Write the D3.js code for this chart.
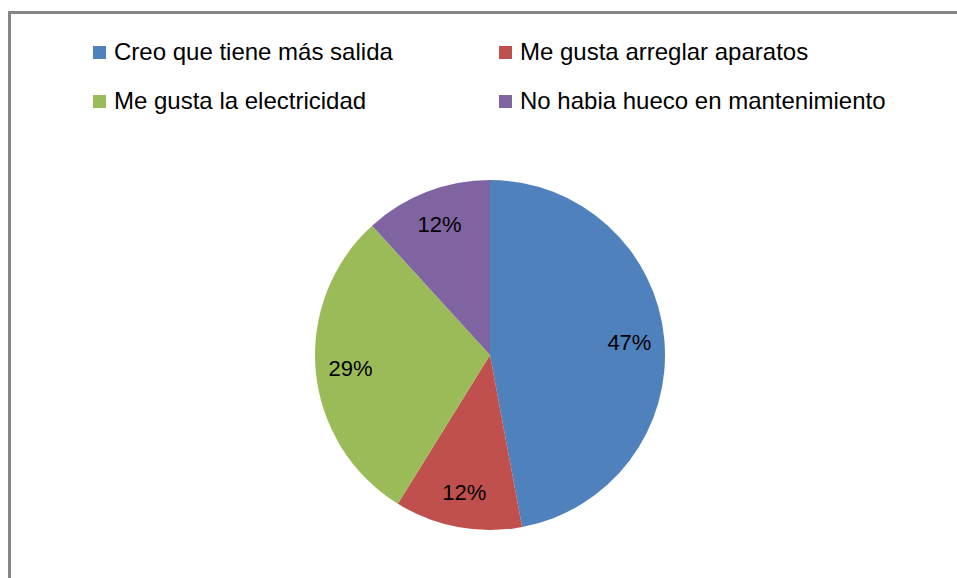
<!DOCTYPE html>
<html>
<head>
<meta charset="utf-8">
<script src="https://cdn.jsdelivr.net/npm/d3@7"></script>
<style>
  body { margin: 0; background: #fff; }
  text { font-family: "Liberation Sans", Arial, sans-serif; fill: #000; }
</style>
</head>
<body>
<div id="chart"></div>
<script>
var categories = ["Creo que tiene más salida", "Me gusta arreglar aparatos", "Me gusta la electricidad", "No habia hueco en mantenimiento"];
var counts = [8, 2, 5, 2];
var colors = ["#4F81BD", "#C0504D", "#9BBB59", "#8064A2"];

var width = 957;
var height = 578;

var svg = d3.select('#chart')
  .append('svg')
  .attr('width', width)
  .attr('height', height);

// frame (only top and left edge fall inside the picture)
svg.append('path')
  .attr('d', 'M9.5,' + height + 'V12.5H' + width)
  .attr('fill', 'none')
  .attr('stroke', '#868686')
  .attr('stroke-width', 3);

var cx = 490, cy = 355, r = 175;

var pie = d3.pie().sort(null).value(function (d) { return d; });
var arcs = pie(counts);
var total = d3.sum(counts);

var arc = d3.arc().innerRadius(0).outerRadius(r);
var labelArc = d3.arc().innerRadius(r * 0.8).outerRadius(r * 0.8);

var g = svg.append('g').attr('transform', 'translate(' + cx + ',' + cy + ')');

g.selectAll('path.slice')
  .data(arcs)
  .enter()
  .append('path')
  .attr('class', 'slice')
  .attr('d', arc)
  .attr('fill', function (d, i) { return colors[i]; });

g.selectAll('text.lbl')
  .data(arcs)
  .enter()
  .append('text')
  .attr('class', 'lbl')
  .attr('transform', function (d) {
    var c = labelArc.centroid(d);
    return 'translate(' + c[0] + ',' + c[1] + ')';
  })
  .attr('text-anchor', 'middle')
  .attr('dy', '0.35em')
  .style('font-size', '22px')
  .text(function (d) { return Math.round(d.value / total * 100) + '%'; });

// legend, two columns x two rows
var legX = d3.scaleOrdinal().domain([0, 1]).range([93, 499]);
var legY = d3.scaleOrdinal().domain([0, 1]).range([46, 95]);

var leg = svg.selectAll('g.leg')
  .data(categories)
  .enter()
  .append('g')
  .attr('class', 'leg')
  .attr('transform', function (d, i) {
    var col = i % 2, row = Math.floor(i / 2);
    return 'translate(' + legX(col) + ',' + legY(row) + ')';
  });

leg.append('rect')
  .attr('width', 13)
  .attr('height', 13)
  .attr('fill', function (d, i) { return colors[i]; });

leg.append('text')
  .attr('x', 21)
  .attr('y', 14)
  .style('font-size', '24px')
  .text(function (d) { return d; });
</script>
</body>
</html>
